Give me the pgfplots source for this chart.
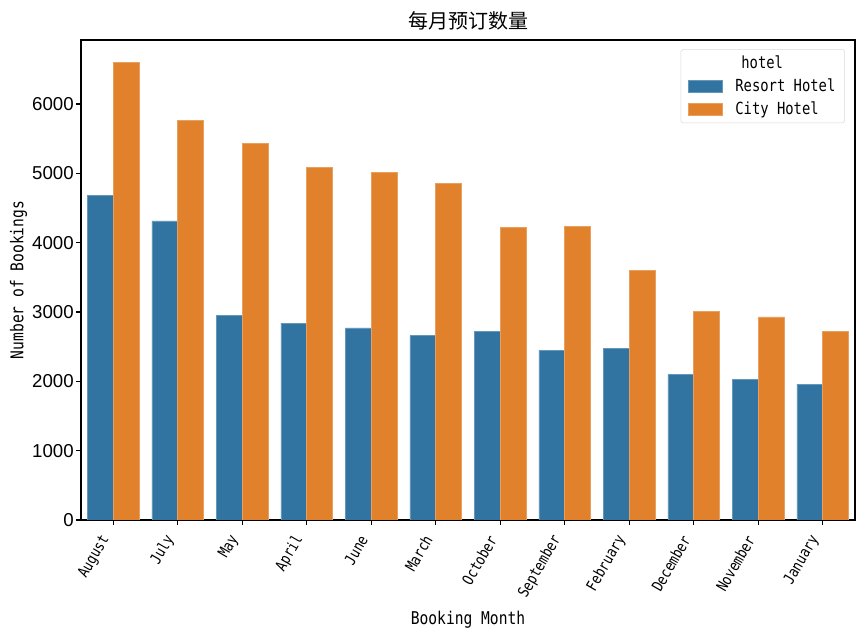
\documentclass[border=0pt]{standalone}
\usepackage{fontspec}
\usepackage{pgfplots}
\usepackage{pgfplotstable}
\pgfplotsset{compat=1.18}
\setmainfont{DejaVu Sans Mono}[FakeStretch=0.83]
\newfontfamily\cjk{Noto Sans CJK SC}
\newfontfamily\numf{Liberation Sans}
\definecolor{resort}{RGB}{50,116,161}
\definecolor{city}{RGB}{225,129,44}

\pgfplotstableread{
idx month resort city
0 August 4680 6600
1 July 4315 5760
2 May 2950 5430
3 April 2840 5090
4 June 2770 5015
5 March 2660 4855
6 October 2720 4215
7 September 2450 4235
8 February 2480 3600
9 December 2100 3005
10 November 2030 2930
11 January 1960 2720
}\data

\begin{document}
\begin{tikzpicture}
\begin{axis}[name=ax, scale only axis, width=580.5pt, height=360pt,
  xmin=-0.5, xmax=11.5, ymin=0, ymax=6923,
  xtick={0,...,11}, xticklabels from table={\data}{month},
  ytick={0,1000,...,6000},
  tick align=outside, tick pos=left,
  major tick length=3.75pt,
  tick style={black, line width=0.8pt},
  axis line style={line width=0.9pt},
  /pgf/number format/assume math mode=true,
  /pgf/number format/1000 sep={},
  x tick label style={font=\fontsize{11.5}{12}\selectfont, xshift=-4.5pt, yshift=-7pt, rotate=60, anchor=east, inner sep=2pt},
  y tick label style={font=\numf\fontsize{14}{16}\selectfont, inner sep=1.5pt},
  xlabel={Booking Month}, ylabel={Number of Bookings},
  label style={font=\fontsize{13.2}{15}\selectfont},
  xlabel style={at={(axis description cs:0.5,-0.2083)}, anchor=center},
  ylabel style={at={(axis description cs:-0.0808,0.5)}, anchor=center},
  title={\cjk 每月预订数量},
  every axis title shift=0pt,
  title style={font=\fontsize{15}{18}\selectfont, at={(axis description cs:0.5,1.0229)}, anchor=base, yshift=0pt},
  legend style={at={(0.987,0.981)}, anchor=north east, draw=black!15, rounded corners=2pt,
    font=\fontsize{12.5}{14}\selectfont, inner xsep=5pt, inner ysep=3pt, row sep=2pt, column sep=8pt},
  legend cell align=left,
]
\addlegendimage{empty legend}
\addlegendentry{\hspace{4.5pt}hotel}
\addplot[ybar, bar width=0.4, bar shift=-0.2, fill=resort, draw=resort!75!white, line width=0.4pt,
  legend image code/.code={\draw[sharp corners, fill=resort, draw=resort!75!white] (0pt,-4.5pt) rectangle (25.5pt,4.5pt);}]
  table[x=idx, y=resort] {\data};
\addlegendentry{Resort Hotel}
\addplot[ybar, bar width=0.4, bar shift=0.2, fill=city, draw=city!75!white, line width=0.4pt,
  legend image code/.code={\draw[sharp corners, fill=city, draw=city!75!white] (0pt,-4.5pt) rectangle (25.5pt,4.5pt);}]
  table[x=idx, y=city] {\data};
\addlegendentry{City Hotel}
\node[font=\cjk\fontsize{13}{14}\selectfont, text=black!22] at (rel axis cs:0.94,-0.2125) {@51CTO博客};
\end{axis}
\pgfresetboundingbox
\path ([xshift=-60.75pt,yshift=-90.75pt]ax.south west) rectangle ([xshift=7.5pt,yshift=30pt]ax.north east);
\end{tikzpicture}
\end{document}
